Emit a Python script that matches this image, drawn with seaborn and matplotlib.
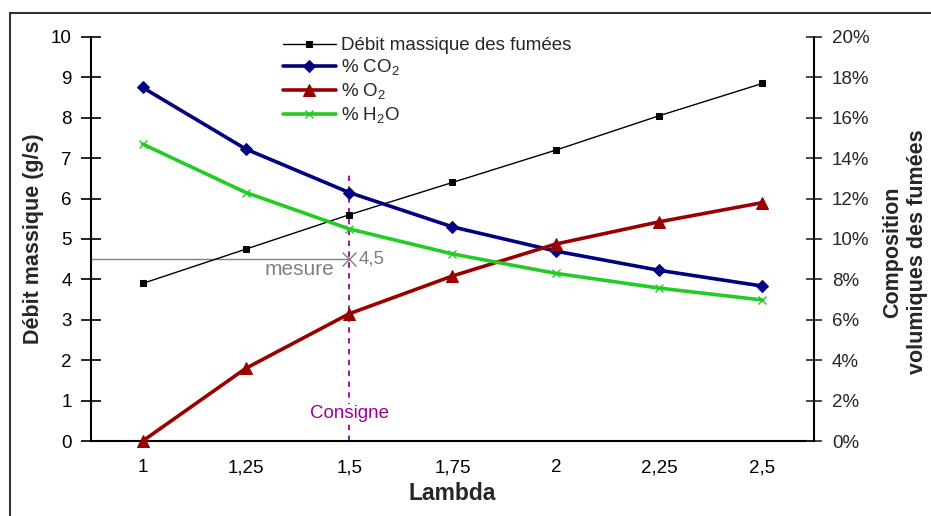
"""
Débit massique et composition des fumées en fonction de lambda
"""
import matplotlib.pyplot as plt
import seaborn as sns
from matplotlib.lines import Line2D

sns.set_style("white")
plt.rcParams['font.family'] = ['Liberation Sans', 'DejaVu Sans']
plt.rcParams['mathtext.fontset'] = 'custom'
plt.rcParams['mathtext.rm'] = 'Liberation Sans'

# ========== données ==========
lambda_vals = [1, 1.25, 1.5, 1.75, 2, 2.25, 2.5]
lambda_labels = ['1', '1,25', '1,5', '1,75', '2', '2,25', '2,5']
debit = [3.9, 4.75, 5.6, 6.4, 7.2, 8.05, 8.85]          # g/s
co2 = [17.5, 14.45, 12.3, 10.6, 9.4, 8.45, 7.67]        # %
o2 = [0.0, 3.6, 6.3, 8.17, 9.75, 10.85, 11.8]           # %
h2o = [14.7, 12.3, 10.5, 9.26, 8.3, 7.57, 6.98]         # %

left_ticks = list(range(0, 11))
right_ticks = list(range(0, 21, 2))
right_labels = [f'{v}%' for v in right_ticks]

MESURE = 4.5
CONSIGNE = 1.5
CONSIGNE_TOP = 6.65

# ========== figure ==========
fig = plt.figure(figsize=(9.31, 5.16), dpi=100)
ax = fig.add_axes([91 / 931, 1 - 441 / 516, (814 - 91) / 931, (441 - 37) / 516])
ax2 = ax.twinx()

sns.lineplot(x=lambda_vals, y=debit, ax=ax, color='black', linewidth=1,
             marker='s', markersize=4.5, markeredgecolor='black',
             label='Débit massique des fumées', clip_on=False, zorder=3)

sns.lineplot(x=lambda_vals, y=co2, ax=ax2, color='#000080', linewidth=2.6,
             marker='D', markersize=6.5, markeredgecolor='#000080',
             label='% CO$_2$', clip_on=False)
sns.lineplot(x=lambda_vals, y=o2, ax=ax2, color='#990000', linewidth=2.6,
             marker='^', markersize=8, markeredgecolor='#990000',
             label='% O$_2$', clip_on=False)
sns.lineplot(x=lambda_vals, y=h2o, ax=ax2, color='#22cc22', linewidth=2.6,
             marker='x', markersize=6, markeredgecolor='#22cc22', markeredgewidth=1,
             label='% H$_2$O', clip_on=False)

# mesure / consigne
x0 = lambda_vals[0] - 0.125
x1 = lambda_vals[-1] + 0.125
ax.hlines(MESURE, x0, CONSIGNE, color='#808080', linewidth=1, zorder=2)
ax.plot([CONSIGNE], [MESURE], marker='x', markersize=10, color='#808080',
        markeredgewidth=1, zorder=4)
ax.text(CONSIGNE + 0.022, MESURE, '4,5', color='#808080', fontsize=13.5,
        ha='left', va='center')
ax.text(CONSIGNE - 0.035, MESURE - 0.02, 'mesure', color='#808080', fontsize=15,
        ha='right', va='top')
ax.vlines(CONSIGNE, 0, CONSIGNE_TOP, color='#990099', linewidth=1.3,
          linestyles=(0, (3, 3)), zorder=2)
ax.text(CONSIGNE, 0.68, 'Consigne', color='#990099', fontsize=13.5,
        ha='center', va='center',
        bbox=dict(facecolor='white', edgecolor='none', pad=0.5), zorder=3)

# axes
ax.set_xlim(x0, x1)
ax.set_ylim(0, 10)
ax2.set_ylim(0, 20)
ax.set_xticks(lambda_vals)
ax.set_xticklabels(lambda_labels)
ax.set_yticks(left_ticks)
ax2.set_yticks(right_ticks)
ax2.set_yticklabels(right_labels)

ax.tick_params(axis='both', direction='inout', length=14, width=1.2,
               labelsize=13.5, colors='black')
ax.tick_params(axis='y', pad=7)
ax.tick_params(axis='x', pad=6)
ax2.tick_params(axis='y', direction='inout', length=12, width=1.2,
                labelsize=13.5, pad=7)

for s in ['top', 'right']:
    ax.spines[s].set_visible(False)
for s in ['top', 'left', 'bottom']:
    ax2.spines[s].set_visible(False)
for s in ['left', 'bottom']:
    ax.spines[s].set_linewidth(1.5)
    ax.spines[s].set_color('black')
ax2.spines['right'].set_linewidth(1.5)
ax2.spines['right'].set_color('black')

ax.set_xlabel('Lambda', fontsize=16.5, fontweight='bold', labelpad=4)
ax.set_ylabel('Débit massique (g/s)', fontsize=15.5, fontweight='bold', labelpad=5)
ax2.set_ylabel('')
fig.text(905 / 931, 1 - 252 / 516, 'Composition\nvolumiques des fumées',
         rotation=90, ha='center', va='center', fontsize=15.5, fontweight='bold',
         multialignment='center', linespacing=1.2)

# légende
h1, l1 = ax.get_legend_handles_labels()
h2, l2 = ax2.get_legend_handles_labels()
if ax.get_legend() is not None:
    ax.get_legend().remove()
ax2.legend(h1 + h2, l1 + l2, loc='upper left', frameon=False, fontsize=13.5,
           bbox_to_anchor=(283 / 931, 1 - 37 / 516), bbox_transform=fig.transFigure,
           borderpad=0, borderaxespad=0, handlelength=2.8, handletextpad=0.3,
           labelspacing=0.2)

# cadre extérieur
fig.add_artist(Line2D([10 / 931, 1.0], [1 - 13 / 516, 1 - 13 / 516],
                      transform=fig.transFigure, color='#333333', linewidth=1.5))
fig.add_artist(Line2D([10 / 931, 10 / 931], [1 - 13 / 516, 0.0],
                      transform=fig.transFigure, color='#333333', linewidth=1.5))

plt.savefig('out.png', dpi=100)
plt.close()
